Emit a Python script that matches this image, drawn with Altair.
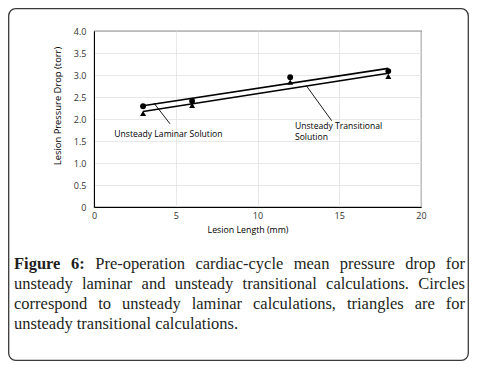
import altair as alt
import pandas as pd

# ---- data ----
lesion_length = [3, 6, 12, 18]
laminar_drop = [2.29, 2.41, 2.95, 3.09]          # circles
transitional_drop = [2.13, 2.31, 2.84, 2.97]     # triangles

fit_x = [3, 18]
laminar_fit = [2.30, 3.15]
transitional_fit = [2.17, 3.04]

x_ticks = [0, 5, 10, 15, 20]
y_ticks = [0, 0.5, 1.0, 1.5, 2.0, 2.5, 3.0, 3.5, 4.0]

ann_text = ["Unsteady Laminar Solution", "Unsteady Transitional", "Solution"]
ann_x = [1.24, 12.29, 12.29]
ann_y = [1.66, 1.84, 1.59]

lead_x = [3.67, 4.65, 13.0, 14.54]
lead_y = [2.36, 1.89, 2.75, 1.96]
lead_id = ["lam", "lam", "tra", "tra"]

caption_lines = [
    [("Figure", True), ("6:", True), ("Pre-operation", False), ("cardiac-cycle", False),
     ("mean", False), ("pressure", False), ("drop", False), ("for", False)],
    [("unsteady", False), ("laminar", False), ("and", False), ("unsteady", False),
     ("transitional", False), ("calculations.", False), ("Circles", False)],
    [("correspond", False), ("to", False), ("unsteady", False), ("laminar", False),
     ("calculations,", False), ("triangles", False), ("are", False), ("for", False)],
    [("unsteady", False), ("transitional", False), ("calculations.", False)],
]

# ---- layout helpers (Times-metric widths, per 1000 em) ----
REG = dict(a=444, b=500, c=444, d=500, e=444, f=333, g=500, h=500, i=278, j=278, k=500,
           l=278, m=778, n=500, o=500, p=500, q=500, r=333, s=389, t=278, u=500, v=500,
           w=722, x=500, y=500, z=444, C=667, F=556, P=556)
REG.update({".": 250, ",": 250, ":": 278, "-": 333, " ": 250, "6": 500})
BOLD = dict(REG)
BOLD.update(dict(F=611, u=556, r=444, e=444))
BOLD.update({":": 333})

FS = 16.5
LEFT, RIGHT = 14 - 94, 465 - 94          # chart coordinates (plot origin at page 94,31)
BASE = [268.5 - 31, 288.5 - 31, 308.5 - 31, 328.8 - 31]


def wwidth(w, bold):
    tbl = BOLD if bold else REG
    return sum(tbl.get(ch, 500) for ch in w) * FS / 1000.0


rows = []
for li, words in enumerate(caption_lines):
    widths = [wwidth(w, b) for w, b in words]
    last = li == len(caption_lines) - 1
    if last:
        gap = REG[" "] * FS / 1000.0
    else:
        gap = (RIGHT - LEFT - sum(widths)) / (len(words) - 1)
    xpos = LEFT
    for (w, b), wd in zip(words, widths):
        rows.append(dict(word=w, bold=b, px=xpos, py=BASE[li]))
        xpos += wd + gap
cap_df = pd.DataFrame(rows)

pts = pd.DataFrame({
    "len": lesion_length * 2,
    "drop": laminar_drop + transitional_drop,
    "kind": ["laminar"] * 4 + ["transitional"] * 4,
})
fits = pd.DataFrame({
    "len": fit_x * 2,
    "drop": laminar_fit + transitional_fit,
    "kind": ["laminar"] * 2 + ["transitional"] * 2,
})
ann = pd.DataFrame({"t": ann_text, "x": ann_x, "y": ann_y})
leads = pd.DataFrame({"x": lead_x, "y": lead_y, "id": lead_id})

xs = alt.Scale(domain=[0, 20], nice=False, zero=False)
ys = alt.Scale(domain=[0, 4], nice=False, zero=False)
SANS = "Open Sans"

x_axis = alt.Axis(values=x_ticks, title=None, ticks=False, labelPadding=4, labelFontSize=9,
                  labelFont=SANS, labelColor="#333", domainColor="black", grid=True,
                  gridColor="#e2e2e2", gridWidth=0.8, labelFlush=False, labelOverlap=False)
y_axis = alt.Axis(values=y_ticks, title=None, ticks=False, labelPadding=8, labelFontSize=9,
                  labelFont=SANS, labelColor="#333", domainColor="black", grid=True,
                  gridColor="#e2e2e2", gridWidth=0.8, labelOverlap=False, labelFlush=False,
                  labelExpr="datum.value == 0 ? '0' : format(datum.value, '.1f')")


def X(f):
    return alt.X(f, scale=xs, axis=x_axis)


def Y(f):
    return alt.Y(f, scale=ys, axis=y_axis)


base_pts = alt.Chart(pts)
circles = base_pts.transform_filter(alt.datum.kind == "laminar").mark_point(
    shape="circle", filled=True, color="black", size=34, opacity=1
).encode(x=X("len:Q"), y=Y("drop:Q"))
triangles = base_pts.transform_filter(alt.datum.kind == "transitional").mark_point(
    shape="triangle-up", filled=True, color="black", size=36, opacity=1
).encode(x=X("len:Q"), y=Y("drop:Q"))

fit_lines = alt.Chart(fits).mark_line(color="black", strokeWidth=1.6).encode(
    x=X("len:Q"), y=Y("drop:Q"), detail="kind:N")

leaders = alt.Chart(leads).mark_line(color="black", strokeWidth=0.9).encode(
    x=X("x:Q"), y=Y("y:Q"), detail="id:N")

ann_text_layer = alt.Chart(ann).mark_text(
    align="left", baseline="middle", font=SANS, fontSize=8.6, color="black"
).encode(x=X("x:Q"), y=Y("y:Q"), text="t:N")

one = pd.DataFrame({"a": [0]})
x_title = alt.Chart(one).mark_text(
    text="Lesion Length (mm)", font=SANS, fontSize=8.8, color="black", align="center",
    baseline="middle").encode(x=alt.value(248 - 94), y=alt.value(229.5 - 31))
y_title = alt.Chart(one).mark_text(
    text="Lesion Pressure Drop (torr)", font=SANS, fontSize=9.4, color="black",
    align="center", baseline="middle", angle=270).encode(x=alt.value(58 - 94), y=alt.value(106 - 31))

frame = alt.Chart(one).mark_rect(
    fill="white", fillOpacity=0, stroke="#3a3a3a", strokeWidth=1.3, cornerRadius=7
).encode(x=alt.value(8.7 - 94), x2=alt.value(468.3 - 94), y=alt.value(8.7 - 31), y2=alt.value(360.3 - 31))

cap_reg = alt.Chart(cap_df).transform_filter(alt.datum.bold == False).mark_text(
    align="left", baseline="alphabetic", font="Liberation Serif", fontSize=FS, color="#231f20"
).encode(x=alt.X("px:Q", scale=None), y=alt.Y("py:Q", scale=None), text="word:N")
cap_bold = alt.Chart(cap_df).transform_filter(alt.datum.bold == True).mark_text(
    align="left", baseline="alphabetic", font="Liberation Serif", fontSize=FS,
    fontWeight="bold", color="#231f20"
).encode(x=alt.X("px:Q", scale=None), y=alt.Y("py:Q", scale=None), text="word:N")

chart = alt.layer(
    frame, fit_lines, leaders, circles, triangles, ann_text_layer, x_title, y_title,
    cap_reg, cap_bold
).properties(
    width=327, height=176,
    padding={"left": 86, "top": 23, "right": 48, "bottom": 154},
    autosize="none",
).configure_view(stroke="#222", strokeWidth=1.1)

chart.save("out.html", embed_options={"renderer": "svg", "actions": False})
